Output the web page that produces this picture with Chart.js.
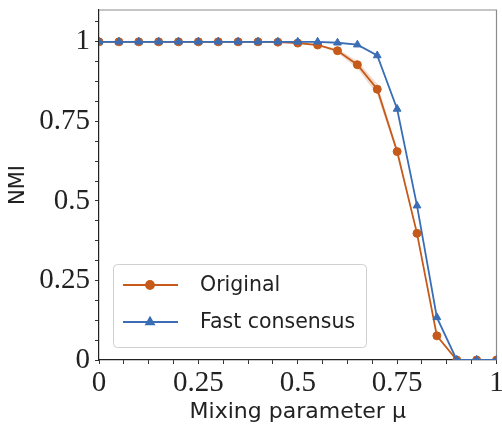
<!DOCTYPE html>
<html>
<head>
<meta charset="utf-8">
<script src="https://cdn.jsdelivr.net/npm/chart.js@4.4.0/dist/chart.umd.min.js"></script>
<style>
  html, body { margin: 0; padding: 0; background: #fff; }
  #wrap { width: 502px; height: 426px; }
</style>
</head>
<body>
<div id="wrap"><canvas id="myChart" width="502" height="426"></canvas></div>
<script>
// data
var mu = [0, 0.05, 0.1, 0.15, 0.2, 0.25, 0.3, 0.35, 0.4, 0.45, 0.5, 0.55, 0.6, 0.65, 0.7, 0.75, 0.8, 0.85, 0.9, 0.95, 1];
var nmiOriginal = [1, 1, 1, 1, 1, 1, 1, 1, 1, 0.999, 0.996, 0.99, 0.972, 0.928, 0.851, 0.655, 0.398, 0.076, 0, 0, 0];
var nmiFast = [1, 1, 1, 1, 1, 1, 1, 1, 1, 1, 1, 1, 0.997, 0.991, 0.957, 0.789, 0.485, 0.134, 0, 0, 0];
// spread band around the original curve (only visible near the drop)
var bandMu = [0.55, 0.6, 0.65, 0.7, 0.75, 0.8];
var bandUpper = [0.992, 0.978, 0.94, 0.868, 0.665, 0.405];
var bandLower = [0.988, 0.966, 0.916, 0.834, 0.645, 0.392];

var xTicks = [0, 0.0625, 0.125, 0.1875, 0.25, 0.3125, 0.375, 0.4375, 0.5, 0.5625, 0.625, 0.6875, 0.75, 0.8125, 0.875, 0.9375, 1];
var yTicks = [0, 0.0625, 0.125, 0.1875, 0.25, 0.3125, 0.375, 0.4375, 0.5, 0.5625, 0.625, 0.6875, 0.75, 0.8125, 0.875, 0.9375, 1, 1.0625];
var tickLabels = { 0: '0', 0.25: '0.25', 0.5: '0.5', 0.75: '0.75', 1: '1' };

var seriesNames = ['Original', 'Fast consensus'];
var orange = '#c55a1a';
var blue = '#3a6db4';

const toPts = (xs, ys) => xs.map((x, i) => ({ x: x, y: ys[i] }))

// grey frame on top and right
const framePlugin = {
  id: 'frame',
  beforeDatasetsDraw(chart) {
    const a = chart.chartArea
    const ctx = chart.ctx
    ctx.save()
    ctx.strokeStyle = '#8c8c8c'
    ctx.lineWidth = 1.2
    ctx.beginPath()
    ctx.moveTo(a.left, a.top)
    ctx.lineTo(a.right, a.top)
    ctx.lineTo(a.right, a.bottom)
    ctx.stroke()
    ctx.restore()
  }
}

// legend box inside the plot, lower left
const boxLegend = {
  id: 'boxLegend',
  afterDraw(chart) {
    const ctx = chart.ctx
    const x0 = 113, y0 = 264, w = 253, h = 83
    ctx.save()
    ctx.fillStyle = 'rgba(255,255,255,0.85)'
    ctx.strokeStyle = '#d0d0d0'
    ctx.lineWidth = 1
    ctx.beginPath()
    ctx.roundRect(x0 + 0.5, y0 + 0.5, w, h, 4)
    ctx.fill()
    ctx.stroke()
    const rows = [
      { label: seriesNames[0], color: orange, style: 'circle', r: 4, y: 285 },
      { label: seriesNames[1], color: blue, style: 'triangle', r: 4.5, y: 322 }
    ]
    rows.forEach(row => {
      ctx.strokeStyle = row.color
      ctx.lineWidth = 1.8
      ctx.beginPath()
      ctx.moveTo(123, row.y)
      ctx.lineTo(178, row.y)
      ctx.stroke()
      ctx.fillStyle = row.color
      Chart.helpers.drawPoint(ctx, { pointStyle: row.style, radius: row.r, borderWidth: 1, rotation: 0 }, 150, row.y)
      ctx.fillStyle = '#222'
      ctx.font = '20.5px "DejaVu Sans"'
      ctx.textBaseline = 'middle'
      ctx.textAlign = 'left'
      ctx.fillText(row.label, 200, row.y + 1)
    })
    ctx.restore()
  }
}

const tickFont = { family: '"Liberation Serif"', size: 29 }

var canvas1 = document.getElementById('myChart')
var myChart = new Chart(canvas1, {
  type: 'line',
  data: {
    datasets: [
      {
        label: seriesNames[1],
        data: toPts(mu, nmiFast),
        borderColor: blue,
        backgroundColor: blue,
        borderWidth: 1.8,
        pointStyle: 'triangle',
        pointRadius: 4.5,
        pointBorderWidth: 1,
        order: 0
      },
      {
        label: seriesNames[0],
        data: toPts(mu, nmiOriginal),
        borderColor: orange,
        backgroundColor: orange,
        borderWidth: 1.8,
        pointStyle: 'circle',
        pointRadius: 4,
        pointBorderWidth: 1,
        order: 1
      },
      {
        label: 'upper',
        data: toPts(bandMu, bandUpper),
        borderWidth: 0,
        pointRadius: 0,
        fill: '+1',
        backgroundColor: 'rgba(197,90,26,0.22)',
        order: 2
      },
      {
        label: 'lower',
        data: toPts(bandMu, bandLower),
        borderWidth: 0,
        pointRadius: 0,
        fill: false,
        order: 2
      }
    ]
  },
  options: {
    responsive: false,
    animation: false,
    layout: { padding: { top: 10, right: 2, left: 0, bottom: 0 } },
    plugins: {
      legend: { display: false },
      tooltip: { enabled: false }
    },
    scales: {
      x: {
        type: 'linear',
        min: 0,
        max: 1,
        afterBuildTicks: s => { s.ticks = xTicks.map(v => ({ value: v })) },
        afterFit: s => { s.height = 66; s.paddingLeft = 0; s.paddingRight = 0 },
        grid: { drawOnChartArea: false, drawTicks: true, tickLength: 4, color: '#333' },
        border: { color: '#222', width: 1.2 },
        ticks: {
          autoSkip: false,
          maxRotation: 0,
          padding: 2,
          color: '#222',
          font: tickFont,
          callback: v => tickLabels[v] !== undefined ? tickLabels[v] : ''
        },
        title: {
          display: true,
          text: 'Mixing parameter μ',
          color: '#222',
          font: { family: '"DejaVu Sans"', size: 22 },
          padding: { top: 0, bottom: 1 }
        }
      },
      y: {
        min: 0,
        max: 1.1,
        afterBuildTicks: s => { s.ticks = yTicks.map(v => ({ value: v })) },
        afterFit: s => { s.width = 99; s.paddingTop = 0; s.paddingBottom = 0 },
        grid: { drawOnChartArea: false, drawTicks: true, tickLength: 4, color: '#333' },
        border: { color: '#222', width: 1.2 },
        ticks: {
          autoSkip: false,
          padding: 5,
          color: '#222',
          font: tickFont,
          callback: v => tickLabels[v] !== undefined ? tickLabels[v] : ''
        },
        title: {
          display: true,
          text: 'NMI',
          color: '#222',
          font: { family: '"DejaVu Sans"', size: 21 },
          padding: { top: 6, bottom: 0 }
        }
      }
    }
  },
  plugins: [framePlugin, boxLegend]
});
</script>
</body>
</html>
